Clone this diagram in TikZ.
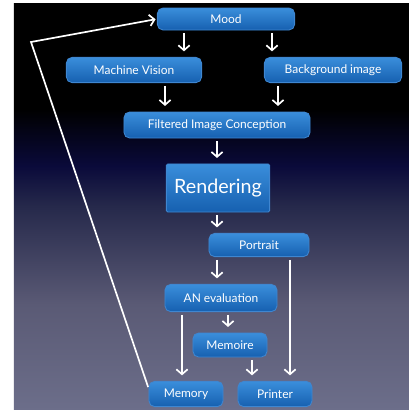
\documentclass[tikz,border=0pt]{standalone}
\usepackage{fontspec}
\setmainfont{Lato}
\usetikzlibrary{arrows.meta,positioning,calc}
\definecolor{boxtop}{HTML}{3A8EDB}
\definecolor{boxbot}{HTML}{1660B0}
\definecolor{boxedge}{HTML}{3F86D0}
\definecolor{navy}{HTML}{0A0A3A}
\definecolor{dusk}{HTML}{26294B}
\definecolor{haze}{HTML}{5A5A75}
\definecolor{floor}{HTML}{6C6E8A}
\pgfdeclareverticalshading{nightsky}{100bp}{color(0bp)=(floor); color(25bp)=(floor);
  color(38bp)=(haze); color(50bp)=(dusk); color(55bp)=(navy); color(62bp)=(black);
  color(100bp)=(black)}

\begin{document}
\begin{tikzpicture}[
  x=0.025cm, y=-0.025cm,
  >={Straight Barb[length=3.5pt,width=8pt]},
  arrow/.style={->,draw=white,line width=1.2pt,shorten <=2pt,shorten >=4pt},
  box/.style={rounded corners=4pt,top color=boxtop,bottom color=boxbot,draw=boxedge,
              line width=0.6pt,text=white,inner sep=0pt,font=\fontsize{8.5}{10}\selectfont},
  bigbox/.style={box,rounded corners=1pt,font=\fontsize{14}{16}\selectfont}
]

% Backdrop
\fill[white] (0,0) rectangle (409,410);
\shade[shading=nightsky] (14,3) rectangle (409,410);
\useasboundingbox (0,0) rectangle (409,410);

% Stages
\node[box,minimum width=3.43cm,minimum height=0.55cm] (mood) at (226,19) {Mood};
\node[box,minimum width=3.38cm,minimum height=0.63cm] (vision) at (134,70) {Machine Vision};
\node[box,minimum width=3.43cm,minimum height=0.63cm] (backdrop) at (333,70) {Background image};
\node[box,minimum width=4.65cm,minimum height=0.65cm] (filtered) at (217,125) {Filtered Image Conception};
\node[bigbox,minimum width=2.58cm,minimum height=1.2cm] (render) at (218,188) {Rendering};
\node[box,minimum width=2.5cm,minimum height=0.58cm] (portrait) at (259,245) {Portrait};
\node[box,minimum width=2.8cm,minimum height=0.68cm] (aneval) at (221,298) {AN evaluation};
\node[box,minimum width=1.85cm,minimum height=0.6cm] (memoire) at (230,345) {Memoire};
\node[box,minimum width=1.85cm,minimum height=0.63cm] (memory) at (186,394) {Memory};
\node[box,minimum width=1.85cm,minimum height=0.63cm] (printer) at (275,394) {Printer};

% Arrows
\draw[arrow] (mood.south -| 184,0) -- (vision.north -| 184,0);
\draw[arrow] (mood.south -| 272,0) -- (backdrop.north -| 272,0);
\draw[arrow] (vision.south -| 165,0) -- (filtered.north -| 165,0);
\draw[arrow] (backdrop.south -| 278,0) -- (filtered.north -| 278,0);
\draw[arrow] (filtered.south -| 217,0) -- (render.north -| 217,0);
\draw[arrow] (render.south -| 217,0) -- (portrait.north -| 217,0);
\draw[arrow] (portrait.south -| 217,0) -- (aneval.north -| 217,0);
\draw[arrow] (aneval.south -| 228,0) -- (memoire.north -| 228,0);
\draw[arrow] (aneval.south -| 182,0) -- (memory.north -| 182,0);
\draw[arrow] (memoire.south -| 252,0) -- (printer.north -| 252,0);
\draw[arrow] (portrait.south -| 290,0) -- (printer.north -| 290,0);

% Feedback loop
\coordinate (bend) at (31,42);
\draw[arrow,shorten <=1pt,shorten >=1pt] ([yshift=4pt]memory.west) -- (bend) -- (mood.west);

\end{tikzpicture}
\end{document}
